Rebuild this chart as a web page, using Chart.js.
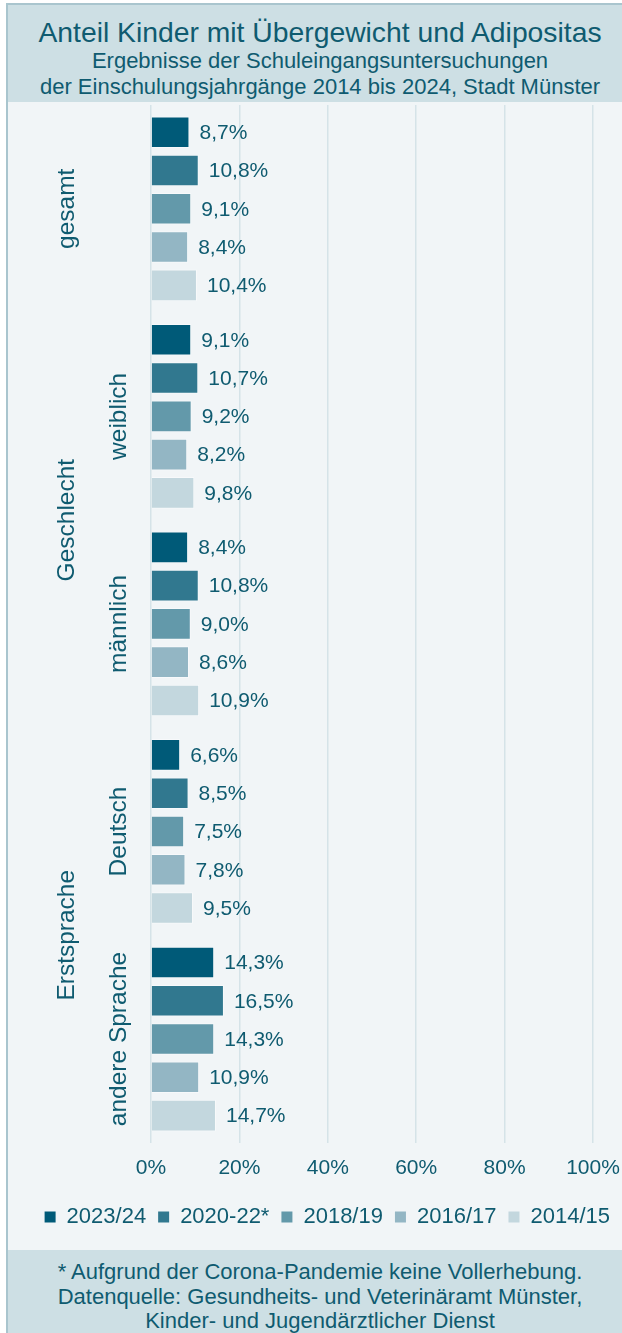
<!DOCTYPE html>
<html lang="de">
<head>
<meta charset="utf-8">
<title>Anteil Kinder mit Übergewicht und Adipositas</title>
<script src="https://cdn.jsdelivr.net/npm/chart.js@4.4.1/dist/chart.umd.min.js"></script>
<style>
    :root {
        --text-teal: #0f5b70;
        --band-gray: #cddfe4;
        --plot-gray: #f1f5f7;
        --frame-gray: #a9c5ce;
    }
    html, body {
        margin: 0;
        padding: 0;
        background: #ffffff;
        font-family: "Liberation Sans", Arial, sans-serif;
    }
    #frame {
        position: absolute;
        left: 6px;
        top: 3px;
        width: 624px;
        height: 1400px;
        border: 2px solid var(--frame-gray);
        background: var(--plot-gray);
    }
    #header {
        position: absolute;
        left: 0;
        top: 0;
        width: 100%;
        height: 97px;
        background: var(--band-gray);
        color: var(--text-teal);
        text-align: center;
        padding-top: 11px;
        box-sizing: border-box;
    }
    #header .title {
        font-size: 28.3px;
        line-height: 32px;
    }
    #header .subtitle {
        font-size: 22px;
        line-height: 26px;
    }
    #footer {
        position: absolute;
        left: 0;
        top: 1245px;
        width: 100%;
        height: 160px;
        background: var(--band-gray);
        color: var(--text-teal);
        text-align: center;
        font-size: 22px;
        line-height: 24.5px;
        padding-top: 10px;
        box-sizing: border-box;
    }
    #chart_wrap {
        position: absolute;
        left: 0;
        top: 103px;
        width: 622px;
        height: 1147px;
    }
</style>
</head>
<body>
<div id="frame">
    <div id="header">
        <div class="title">Anteil Kinder mit Übergewicht und Adipositas</div>
        <div class="subtitle">Ergebnisse der Schuleingangsuntersuchungen</div>
        <div class="subtitle">der Einschulungsjahrgänge 2014 bis 2024, Stadt Münster</div>
    </div>
    <div id="footer">
        * Aufgrund der Corona-Pandemie keine Vollerhebung.<br>
        Datenquelle: Gesundheits- und Veterinäramt Münster,<br>
        Kinder- und Jugendärztlicher Dienst
    </div>
</div>
<div id="chart_wrap">
    <canvas id="obesity_chart" width="622" height="1147"></canvas>
</div>

<script>
// Kategorien der y-Achse (innere Ebene) und ihre Obergruppen
const categories = ['gesamt', 'weiblich', 'männlich', 'Deutsch', 'andere Sprache'];
const group_labels = ['Geschlecht', 'Erstsprache'];
const group_members = [[1, 2], [3, 4]];

// Einschulungsjahrgänge, Anteil in %
const years = ['2023/24', '2020-22*', '2018/19', '2016/17', '2014/15'];
const values_2023_24 = [8.7, 9.1, 8.4, 6.6, 14.3];
const values_2020_22 = [10.8, 10.7, 10.8, 8.5, 16.5];
const values_2018_19 = [9.1, 9.2, 9.0, 7.5, 14.3];
const values_2016_17 = [8.4, 8.2, 8.6, 7.8, 10.9];
const values_2014_15 = [10.4, 9.8, 10.9, 9.5, 14.7];

// x-Achse in Prozent
const percent_min = 0;
const percent_max = 100;
const percent_step = 20;

const bar_colors = ['#005a78', '#31788f', '#6399aa', '#93b6c4', '#c3d7de'];
const text_color = '#0f5b70';
const grid_color = '#d5e3e8';
const font_family = '"Liberation Sans", Arial, sans-serif';

Chart.defaults.font.family = font_family;
Chart.defaults.color = text_color;

function format_percent(value) {
    return value.toFixed(1).replace('.', ',') + '%';
}

// Werte rechts neben die Balken schreiben
const bar_value_labels = {
    id: 'bar_value_labels',
    afterDatasetsDraw(chart) {
        const ctx = chart.ctx;
        ctx.save();
        ctx.font = '21px ' + font_family;
        ctx.fillStyle = text_color;
        ctx.textAlign = 'left';
        ctx.textBaseline = 'middle';
        chart.data.datasets.forEach((dataset, i) => {
            chart.getDatasetMeta(i).data.forEach((bar, j) => {
                ctx.fillText(format_percent(dataset.data[j]), bar.x + 10, bar.y + 1);
            });
        });
        ctx.restore();
    }
};

// zweistufige, gedrehte Beschriftung der y-Achse
const category_axis_labels = {
    id: 'category_axis_labels',
    afterDraw(chart) {
        const ctx = chart.ctx;
        const y_scale = chart.scales.y;
        const inner_x = 126;
        const outer_x = 74;

        function draw_rotated(text, x, y) {
            ctx.save();
            ctx.translate(x, y);
            ctx.rotate(-Math.PI / 2);
            ctx.fillText(text, 0, 0);
            ctx.restore();
        }

        ctx.save();
        ctx.font = '24.5px ' + font_family;
        ctx.fillStyle = text_color;
        ctx.textAlign = 'center';
        ctx.textBaseline = 'alphabetic';

        const grouped = group_members.flat();
        categories.forEach((label, i) => {
            const y = y_scale.getPixelForValue(i);
            // Kategorien ohne Obergruppe stehen in der äußeren Spalte
            draw_rotated(label, grouped.includes(i) ? inner_x : outer_x, y);
        });
        group_labels.forEach((label, g) => {
            const members = group_members[g];
            const y_top = y_scale.getPixelForValue(members[0]);
            const y_bottom = y_scale.getPixelForValue(members[members.length - 1]);
            draw_rotated(label, outer_x, (y_top + y_bottom) / 2);
        });
        ctx.restore();
    }
};

function get_obesity_chart() {
    const obesity_chart = document.getElementById('obesity_chart');
    const series_values = [values_2023_24, values_2020_22, values_2018_19, values_2016_17, values_2014_15];

    new Chart(obesity_chart, {
        type: 'bar',
        data: {
            labels: categories,
            datasets: years.map((year, i) => ({
                label: year,
                data: series_values[i],
                backgroundColor: bar_colors[i],
                borderColor: 'rgba(255, 255, 255, 0.45)',
                borderWidth: 1,
                categoryPercentage: 0.922,
                barPercentage: 0.826,
            }))
        },
        options: {
            indexAxis: 'y',
            responsive: false,
            animation: false,
            devicePixelRatio: 1,
            layout: {
                padding: { top: 2, right: 0, bottom: 12, left: 0 }
            },
            plugins: {
                legend: {
                    position: 'bottom',
                    align: 'end',
                    labels: {
                        boxWidth: 11,
                        boxHeight: 11,
                        padding: 12,
                        color: text_color,
                        font: { size: 22 },
                        generateLabels(chart) {
                            return Chart.defaults.plugins.legend.labels.generateLabels(chart).map(item => {
                                item.lineWidth = 0;
                                return item;
                            });
                        }
                    }
                },
                tooltip: { enabled: false }
            },
            scales: {
                x: {
                    min: percent_min,
                    max: percent_max,
                    ticks: {
                        stepSize: percent_step,
                        padding: 13,
                        color: text_color,
                        font: { size: 21 },
                        callback: value => value + '%'
                    },
                    grid: {
                        color: grid_color,
                        lineWidth: 1.5,
                        drawTicks: false
                    },
                    border: { display: false },
                    afterFit(scale) {
                        // Platz rechts neben der 100%-Linie
                        scale.paddingRight = 29;
                    }
                },
                y: {
                    ticks: { display: false },
                    grid: { display: false },
                    border: { display: false },
                    afterFit(scale) {
                        scale.width = 151;
                    }
                }
            }
        },
        plugins: [bar_value_labels, category_axis_labels]
    });
};

get_obesity_chart();
</script>
</body>
</html>
